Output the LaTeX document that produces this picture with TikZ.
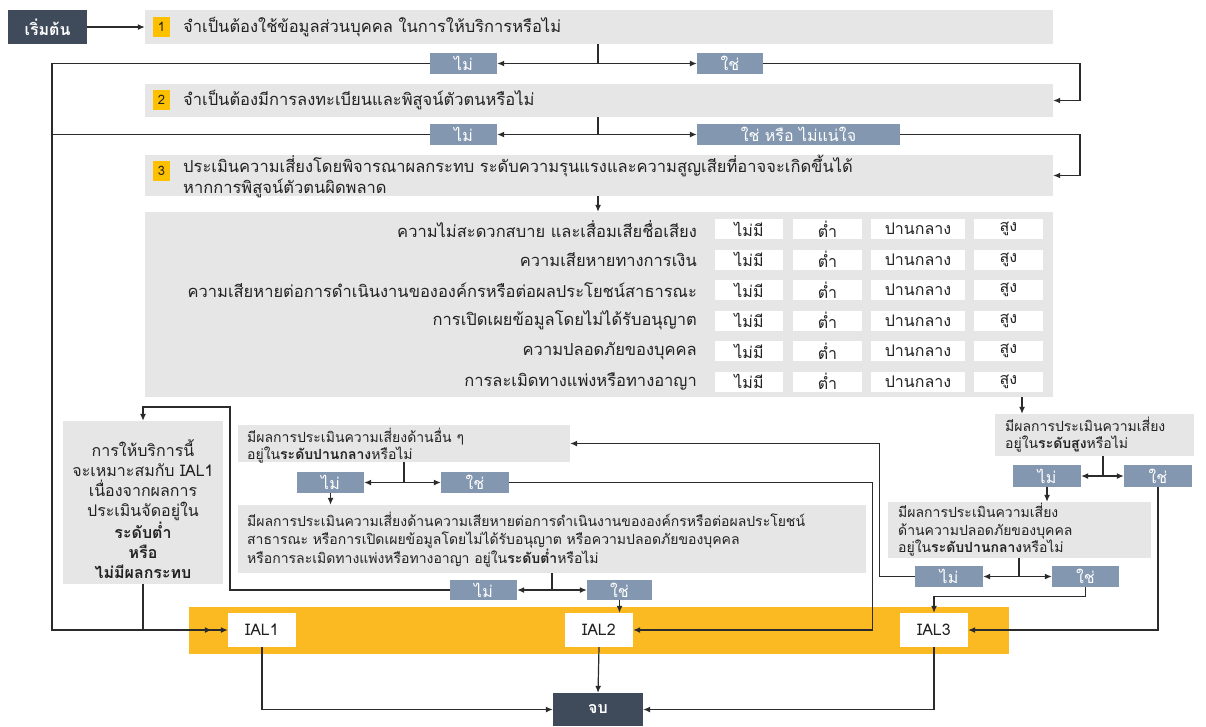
\documentclass[tikz,border=0pt]{standalone}
\usepackage{fontspec}
\setmainfont[Script=Thai]{Loma}
\usetikzlibrary{arrows.meta}
\definecolor{darkn}{HTML}{3F4B5B}
\definecolor{boxg}{HTML}{E6E6E6}
\definecolor{labc}{HTML}{8497B0}
\definecolor{numc}{HTML}{FFC000}
\definecolor{band}{HTML}{FBBA22}
\definecolor{linec}{HTML}{2B2B2B}
\definecolor{txtc}{HTML}{222222}
\newcommand\bx[7]{\node[#2,minimum width={(#5)-(#3)},minimum height={(#6)-(#4)}] (#1) at ({((#3)+(#5))/2},{((#4)+(#6))/2}) {#7};}
\begin{document}
\begin{tikzpicture}[x=1pt,y=-1pt,
  gbox/.style={fill=boxg,inner sep=0},
  lab/.style={fill=labc,inner sep=0,text=white,font=\fontsize{16}{18}\selectfont},
  cell/.style={fill=white,inner sep=0,text=txtc,font=\fontsize{16}{18}\selectfont},
  numb/.style={fill=numc,inner sep=0,text=txtc,font=\fontsize{13}{15}\selectfont},
  darkb/.style={fill=darkn,inner sep=0,text=white,font=\fontsize{16}{18}\selectfont\bfseries},
  ialb/.style={fill=white,inner sep=0,text=txtc,font=\fontsize{16}{18}\selectfont},
  txt/.style={inner sep=0,text=txtc,align=left,font=\fontsize{16.5}{21}\selectfont},
  stxt/.style={inner sep=0,text=txtc,align=left,font=\fontsize{14}{17.5}\selectfont},
  ln/.style={draw=linec,line width=1.2pt},
  arr/.style={ln,-{Latex[length=7pt,width=6pt]}}]
\useasboundingbox (0,0) rectangle (1206,726);
% start and step boxes
\bx{start}{darkb}{8}{10}{87}{44}{เริ่มต้น}
\bx{s1}{gbox}{145}{10}{1053}{44}{}
\bx{n1}{numb}{153}{17}{170}{37}{1}
\node[txt,anchor=west] (t1) at (183,27) {จำเป็นต้องใช้ข้อมูลส่วนบุคคล ในการให้บริการหรือไม่};
\bx{no1}{lab}{430}{53}{497}{74}{ไม่}
\bx{yes1}{lab}{697}{53}{763}{74}{ใช่}
\bx{s2}{gbox}{145}{84}{1053}{117}{}
\bx{n2}{numb}{153}{90}{170}{110}{2}
\node[txt,anchor=west] (t2) at (183,100) {จำเป็นต้องมีการลงทะเบียนและพิสูจน์ตัวตนหรือไม่};
\bx{no2}{lab}{430}{124}{497}{145}{ไม่}
\bx{yes2}{lab}{697}{124}{900}{145}{ใช่ หรือ ไม่แน่ใจ}
\bx{s3}{gbox}{145}{155}{1053}{196}{}
\bx{n3}{numb}{153}{161}{170}{181}{3}
\node[txt,anchor=west] (t3) at (183,176.5) {ประเมินความเสี่ยงโดยพิจารณาผลกระทบ ระดับความรุนแรงและความสูญเสียที่อาจจะเกิดขึ้นได้\\หากการพิสูจน์ตัวตนผิดพลาด};
% table
\bx{tbl}{gbox}{145}{212}{1053}{397}{}
\foreach \i/\lbl in {0/{ความไม่สะดวกสบาย และเสื่อมเสียชื่อเสียง},1/{ความเสียหายทางการเงิน},2/{ความเสียหายต่อการดำเนินงานขององค์กรหรือต่อผลประโยชน์สาธารณะ},3/{การเปิดเผยข้อมูลโดยไม่ได้รับอนุญาต},4/{ความปลอดภัยของบุคคล},5/{การละเมิดทางแพ่งหรือทางอาญา}}{
  \pgfmathsetmacro\yc{229+30.5*\i}
  \node[txt,anchor=east] (r\i) at (697,\yc) {\lbl};
  \bx{c\i a}{cell}{715}{\yc-10}{783}{\yc+10}{ไม่มี}
  \bx{c\i b}{cell}{793}{\yc-10}{862}{\yc+10}{ต่ำ}
  \bx{c\i c}{cell}{871}{\yc-10}{965}{\yc+10}{ปานกลาง}
  \bx{c\i d}{cell}{974}{\yc-10}{1043}{\yc+10}{สูง}
}
% left box
\bx{leftb}{gbox}{63}{421}{223}{584}{}
\node[txt,align=center,font=\fontsize{16}{20}\selectfont] (lt) at (143,509) {การให้บริการนี้\\จะเหมาะสมกับ IAL1\\เนื่องจากผลการ\\ประเมินจัดอยู่ใน\\\textbf{ระดับต่ำ}\\\textbf{หรือ}\\\textbf{ไม่มีผลกระทบ}};
% other-risk box
\bx{obox}{gbox}{238}{425}{570}{462}{}
\node[stxt,anchor=west] (ot) at (247,445.5) {มีผลการประเมินความเสี่ยงด้านอื่น ๆ\\อยู่ใน\textbf{ระดับปานกลาง}หรือไม่};
\bx{ono}{lab}{297}{472}{364}{493}{ไม่}
\bx{oyes}{lab}{441}{472}{509}{493}{ใช่}
% loss box
\bx{lossb}{gbox}{238}{505}{866}{573}{}
\node[stxt,anchor=west] (lt2) at (247,539.5) {มีผลการประเมินความเสี่ยงด้านความเสียหายต่อการดำเนินงานขององค์กรหรือต่อผลประโยชน์\\สาธารณะ หรือการเปิดเผยข้อมูลโดยไม่ได้รับอนุญาต หรือความปลอดภัยของบุคคล\\หรือการละเมิดทางแพ่งหรือทางอาญา อยู่ใน\textbf{ระดับต่ำ}หรือไม่};
\bx{lno}{lab}{450}{580}{517}{600}{ไม่}
\bx{lyes}{lab}{587}{580}{652}{600}{ใช่}
% high box
\bx{hbox}{gbox}{995}{414}{1194}{456}{}
\node[stxt,anchor=west] (ht) at (1005,434.5) {มีผลการประเมินความเสี่ยง\\อยู่ใน\textbf{ระดับสูง}หรือไม่};
\bx{hno}{lab}{1013}{465}{1081}{487}{ไม่}
\bx{hyes}{lab}{1124}{465}{1192}{487}{ใช่}
% safety box
\bx{sbox}{gbox}{888}{502}{1151}{558}{}
\node[stxt,anchor=west] (st) at (898,530) {มีผลการประเมินความเสี่ยง\\ด้านความปลอดภัยของบุคคล\\อยู่ใน\textbf{ระดับปานกลาง}หรือไม่};
\bx{sno}{lab}{915}{566}{983}{587}{ไม่}
\bx{syes}{lab}{1052}{566}{1119}{587}{ใช่}
% band and IAL
\bx{bandn}{fill=band,inner sep=0}{189}{607}{1009}{654}{}
\bx{ial1}{ialb}{228}{613}{296}{647}{IAL1}
\bx{ial2}{ialb}{565}{613}{633}{647}{IAL2}
\bx{ial3}{ialb}{900}{613}{968}{647}{IAL3}
\bx{endn}{darkb}{553}{693}{643}{726}{จบ}
% coordinates
\coordinate (xL) at (52,0);
\coordinate (xR) at (1080,0);
\coordinate (xT) at (1022,0);
\coordinate (xM) at (230,0);
\coordinate (yTop) at (0,407);
\coordinate (j1) at (598,63.5);
\coordinate (j2) at (598,134.5);
\coordinate (jh) at (1103,476);
\coordinate (js) at (1019,576.5);
\coordinate (jo) at (404,482.5);
\coordinate (jl) at (552,590);
% connectors
\draw[arr] (start) -- (s1);
\draw[ln] (s1.south -| j1) -- (j1);
\draw[arr] (j1) -- (no1);
\draw[arr] (j1) -- (yes1);
\draw[arr] (no1.west) -| (xL |- ial1.west) -- (ial1.west);
\draw[arr] (yes1.east) -| (xR |- s2.east) -- (s2.east);
\draw[ln] (s2.south -| j2) -- (j2);
\draw[arr] (j2) -- (no2);
\draw[arr] (j2) -- (yes2);
\draw[ln] (no2.west) -- (no2.west -| xL);
\draw[arr] (yes2.east) -| (xR |- s3.east) -- (s3.east);
\draw[arr] (s3.south -| j2) -- (tbl.north -| j2);
\draw[arr] (tbl.south -| xT) -- (hbox.north -| xT);
\draw[ln] (hbox.south -| jh) -- (jh);
\draw[arr] (jh) -- (hno);
\draw[arr] (jh) -- (hyes);
\draw[arr] (hno.south) -- (hno.south |- sbox.north);
\draw[ln] (sbox.south -| js) -- (js);
\draw[arr] (js) -- (sno);
\draw[arr] (js) -- (syes);
\draw[arr] (syes.south) -- ++(0,9) -| (ial3.north);
\draw[arr] (hyes.south) |- (ial3.east);
\draw[arr] (sno.west) -- ++(-35,0) |- (obox.east);
\draw[ln] (obox.south -| jo) -- (jo);
\draw[arr] (jo) -- (ono);
\draw[arr] (jo) -- (oyes);
\draw[arr] (ono.south) -- (ono.south |- lossb.north);
\draw[arr] (oyes.east) -- ++(363,0) |- (ial2.east);
\draw[ln] (lossb.south -| jl) -- (jl);
\draw[arr] (jl) -- (lno);
\draw[arr] (jl) -- (lyes);
\draw[arr] (lno.west) -| (xM |- yTop) -| (leftb.north);
\draw[arr] (lyes.south) -- (lyes.south |- ial2.north);
\draw[arr,shorten >=16pt] (leftb.south) |- (ial1.west);
\draw[arr] (ial1.south) |- (endn.west);
\draw[arr] (ial2.south) -- (endn.north);
\draw[arr] (ial3.south) |- (endn.east);
\end{tikzpicture}
\end{document}
